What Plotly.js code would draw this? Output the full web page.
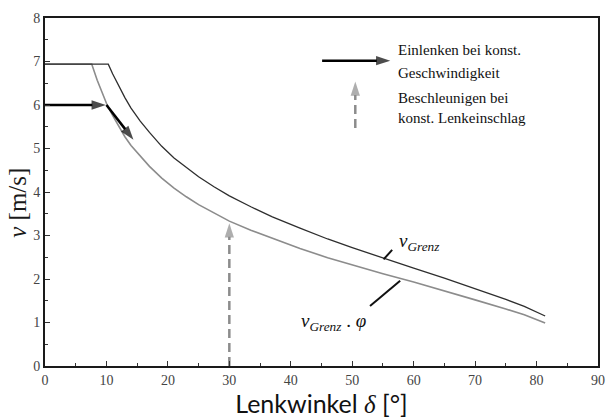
<!DOCTYPE html>
<html>
<head>
<meta charset="utf-8">
<script src="https://cdn.plot.ly/plotly-3.0.1.min.js"></script>
<style>html,body{margin:0;padding:0;background:#fff;}#chart{width:607px;height:420px;}</style>
</head>
<body>
<div id="chart"></div>
<script>
// v_Grenz (dark curve)
const deltaGrenz = [0, 10.3, 11, 12, 13, 14, 15.5, 17, 19, 21, 23, 25, 27.5, 30, 33.5, 37, 41.5, 46, 50, 55, 60, 65, 70, 75, 78, 81.4];
const vGrenz     = [6.94, 6.94, 6.72, 6.43, 6.17, 5.93, 5.63, 5.37, 5.05, 4.78, 4.56, 4.35, 4.12, 3.91, 3.66, 3.43, 3.17, 2.92, 2.72, 2.48, 2.25, 2.02, 1.78, 1.53, 1.37, 1.15];
// v_Grenz * phi (gray curve)
const deltaGrenzPhi = [0, 7.6, 8.5, 9.2, 10, 11, 12, 13, 14, 15.5, 17, 19, 21, 23, 25, 27.5, 30, 33.5, 37, 41.5, 46, 50, 55, 60, 65, 70, 75, 78, 81.4];
const vGrenzPhi     = [6.94, 6.94, 6.57, 6.34, 6.04, 5.76, 5.50, 5.27, 5.07, 4.82, 4.59, 4.32, 4.09, 3.89, 3.71, 3.52, 3.33, 3.12, 2.93, 2.70, 2.49, 2.32, 2.12, 1.93, 1.73, 1.52, 1.31, 1.18, 0.99];
// arrows (data coordinates)
const einlenkenX = [0, 9.9, 14.4];
const einlenkenY = [6, 6, 5.2];
const beschlX = [30, 30];
const beschlY = [0, 3.28];
// legend block
const legSolidX = [45.1, 56.2];
const legSolidY = [7.02, 7.02];
const legDashX = [50.5, 50.5];
const legDashY = [5.47, 6.54];
const legTextX = 57.2;
const legTexts = ["Einlenken bei konst.", "Geschwindigkeit", "Beschleunigen bei", "konst. Lenkeinschlag"];
const legTextY = [7.26, 6.74, 6.16, 5.70];
// curve labels
const labelGrenzLeader = {x: [55.1, 56.5], y: [2.45, 2.67]};
const labelPhiLeader = {x: [52.9, 57.8], y: [1.38, 1.96]};
const xTickVals = [0, 10, 20, 30, 40, 50, 60, 70, 80, 90];
const yTickVals = [0, 1, 2, 3, 4, 5, 6, 7, 8];

const serif = "Liberation Serif, Times New Roman, serif";
const gray = "#8c8c8c";

function arrowTrace(xs, ys, color, width, dash, headSize) {
  return {
    x: xs, y: ys, mode: "lines+markers", hoverinfo: "skip",
    line: {color: color, width: width, dash: dash || "solid"},
    marker: {symbol: xs.map((v, i) => i === xs.length - 1 ? "arrow" : "circle"),
      size: xs.map((v, i) => i === xs.length - 1 ? headSize : 0),
      angleref: "previous", color: color, line: {width: 0}}
  };
}

const traces = [
  {x: deltaGrenzPhi, y: vGrenzPhi, mode: "lines", line: {color: gray, width: 1.6}, hoverinfo: "skip"},
  {x: deltaGrenz, y: vGrenz, mode: "lines", line: {color: "#2e2e2e", width: 1.3}, hoverinfo: "skip"},
  arrowTrace(einlenkenX.slice(0, 2), einlenkenY.slice(0, 2), "#000", 2.5, null, 15),
  arrowTrace([einlenkenX[1] + 0.1, einlenkenX[2]], [einlenkenY[1], einlenkenY[2]], "#000", 2.5, null, 15),
  arrowTrace(beschlX, beschlY, gray, 2.5, "9px,5px", 15),
  arrowTrace(legSolidX, legSolidY, "#000", 2.5, null, 15),
  arrowTrace(legDashX, legDashY, gray, 2.5, "9px,5px", 15),
  // leader lines
  {x: labelGrenzLeader.x, y: labelGrenzLeader.y, mode: "lines", line: {color: "#111", width: 2}, hoverinfo: "skip"},
  {x: labelPhiLeader.x, y: labelPhiLeader.y, mode: "lines", line: {color: "#111", width: 2}, hoverinfo: "skip"}
];

const annotations = [
  {x: 57.3, y: 2.86, xref: "x", yref: "y", xanchor: "left", yanchor: "middle", showarrow: false,
    text: "<i>v</i><sub><i>Grenz</i></sub>", font: {family: serif, size: 19, color: "#111"}},
  {x: 41.4, y: 1.02, xref: "x", yref: "y", xanchor: "left", yanchor: "middle", showarrow: false,
    text: "<i>v</i><sub><i>Grenz</i></sub> . <i>φ</i>", font: {family: serif, size: 19, color: "#111"}},
  {x: -0.05, y: 0.47, xref: "paper", yref: "paper", textangle: -90, showarrow: false,
    xanchor: "center", yanchor: "middle",
    text: "<i>v</i> [m/s]", font: {family: serif, size: 25, color: "#1a1a1a"}}
];
legTexts.forEach((t, i) => annotations.push({
  x: legTextX, y: legTextY[i], xref: "x", yref: "y", xanchor: "left", yanchor: "middle",
  showarrow: false, text: t, font: {family: serif, size: 15, color: "#111"}
}));

const axisCommon = {
  showline: true, linewidth: 2, linecolor: "#1a1a1a", mirror: true,
  showgrid: false, zeroline: false, ticks: "inside", ticklen: 5, tickwidth: 1, tickcolor: "#333",
  tickfont: {family: serif, size: 14, color: "#444"}, fixedrange: true
};

const layout = {
  width: 607, height: 420,
  margin: {l: 45, r: 9, t: 18, b: 54},
  paper_bgcolor: "#fff", plot_bgcolor: "#fff",
  showlegend: false,
  xaxis: Object.assign({}, axisCommon, {
    range: [0, 90], tickvals: xTickVals,
    minor: {dtick: 5, tick0: 0, ticks: "inside", ticklen: 3, tickcolor: "#333", showgrid: false},
    title: {text: "Lenkwinkel <span style=\"font-family:Liberation Serif\"><i>δ</i></span> [°]", font: {family: "Lato, Carlito, sans-serif", size: 25, color: "#111"}, standoff: 6}
  }),
  yaxis: Object.assign({}, axisCommon, {
    range: [0, 8], tickvals: yTickVals,
    minor: {dtick: 0.5, tick0: 0, ticks: "inside", ticklen: 3, tickcolor: "#333", showgrid: false}
  }),
  annotations: annotations
};

Plotly.newPlot("chart", traces, layout, {displayModeBar: false, staticPlot: true});
</script>
</body>
</html>
